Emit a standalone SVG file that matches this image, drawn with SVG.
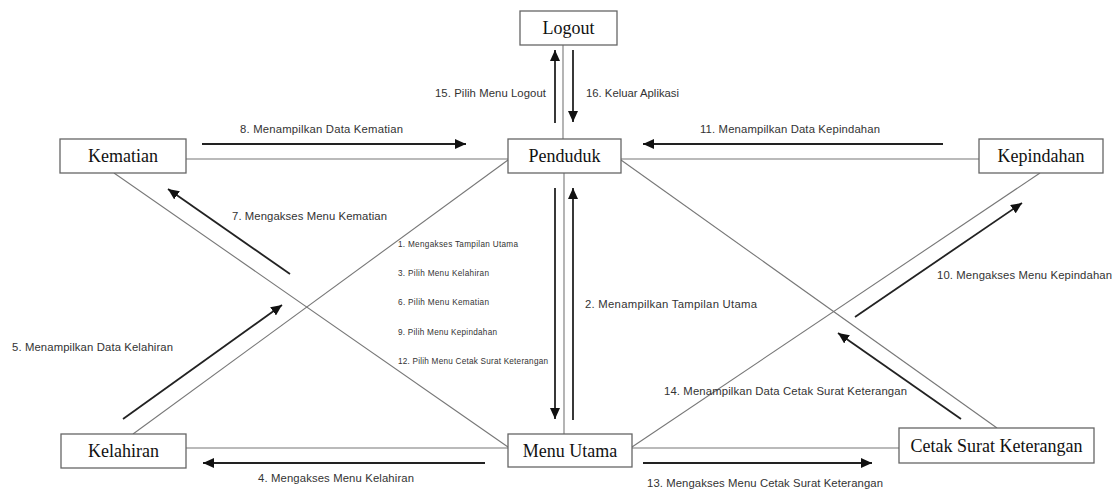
<svg xmlns="http://www.w3.org/2000/svg" width="1118" height="492" viewBox="0 0 1118 492">
<style>
.box{fill:#fff;stroke:#666;stroke-width:1.3}
.nt{font-family:"Liberation Serif","Times New Roman",serif;font-size:18px;fill:#111;text-anchor:middle;dominant-baseline:central}
.ln{stroke:#777;stroke-width:1.1;fill:none}
.ar{stroke:#222;stroke-width:1.8;fill:none;marker-end:url(#ah)}
.lb{font-family:"Liberation Sans",Arial,sans-serif;font-size:11.3px;fill:#333;dominant-baseline:central}
.sm{font-family:"Liberation Sans",Arial,sans-serif;font-size:8.2px;fill:#333;dominant-baseline:central}
</style>
<defs>
<marker id="ah" markerUnits="userSpaceOnUse" markerWidth="12" markerHeight="10" refX="11" refY="5" orient="auto">
<path d="M0,0 L11,5 L0,10 Z" fill="#111"/>
</marker>
</defs>
<g id="connectors">
<line class="ln" x1="563" y1="45" x2="563" y2="139"/>
<line class="ln" x1="186" y1="159" x2="508" y2="159"/>
<line class="ln" x1="621" y1="159" x2="979" y2="159"/>
<line class="ln" x1="564" y1="173" x2="564" y2="434"/>
<line class="ln" x1="186" y1="448" x2="508" y2="448"/>
<line class="ln" x1="632" y1="448" x2="899" y2="448"/>
<line class="ln" x1="114" y1="173" x2="508" y2="447"/>
<line class="ln" x1="508" y1="160" x2="133" y2="434"/>
<line class="ln" x1="621" y1="160" x2="997" y2="428"/>
<line class="ln" x1="632" y1="447" x2="1040" y2="173"/>
<line class="ar" x1="555" y1="123" x2="555" y2="50"/>
<line class="ar" x1="573" y1="50" x2="573" y2="122"/>
<line class="ar" x1="202" y1="144" x2="466" y2="144"/>
<line class="ar" x1="943" y1="144" x2="643" y2="144"/>
<line class="ar" x1="290" y1="274" x2="168" y2="189"/>
<line class="ar" x1="123" y1="419" x2="282" y2="305"/>
<line class="ar" x1="555" y1="188" x2="555" y2="419"/>
<line class="ar" x1="573" y1="420" x2="573" y2="188"/>
<line class="ar" x1="485" y1="463" x2="203" y2="463"/>
<line class="ar" x1="643" y1="463" x2="872" y2="463"/>
<line class="ar" x1="961" y1="419" x2="838" y2="333"/>
<line class="ar" x1="855" y1="317" x2="1022" y2="203"/>
<text class="lb" x="435" y="93" textLength="111">15. Pilih Menu Logout</text>
<text class="lb" x="586" y="93" textLength="93">16. Keluar Aplikasi</text>
<text class="lb" x="240" y="129" textLength="163">8. Menampilkan Data Kematian</text>
<text class="lb" x="700" y="129" textLength="180">11. Menampilkan Data Kepindahan</text>
<text class="lb" x="232" y="216" textLength="155">7. Mengakses Menu Kematian</text>
<text class="lb" x="937" y="275" textLength="175">10. Mengakses Menu Kepindahan</text>
<text class="lb" x="585" y="304" textLength="172">2. Menampilkan Tampilan Utama</text>
<text class="lb" x="12" y="347" textLength="161">5. Menampilkan Data Kelahiran</text>
<text class="lb" x="258" y="478" textLength="156">4. Mengakses Menu Kelahiran</text>
<text class="lb" x="647" y="483" textLength="236">13. Mengakses Menu Cetak Surat Keterangan</text>
<text class="lb" x="664" y="391" textLength="243">14. Menampilkan Data Cetak Surat Keterangan</text>
<text class="sm" x="398" y="244" textLength="120">1. Mengakses Tampilan Utama</text>
<text class="sm" x="398" y="273" textLength="91">3. Pilih Menu Kelahiran</text>
<text class="sm" x="398" y="302" textLength="91">6. Pilih Menu Kematian</text>
<text class="sm" x="398" y="332" textLength="99">9. Pilih Menu Kepindahan</text>
<text class="sm" x="398" y="361" textLength="150">12. Pilih Menu Cetak Surat Keterangan</text>
</g>
<g id="logout"><rect class="box" x="520" y="11" width="97" height="34"/><text class="nt" x="568.5" y="28">Logout</text></g>
<g id="penduduk"><rect class="box" x="508" y="139" width="113" height="34"/><text class="nt" x="564.5" y="156">Penduduk</text></g>
<g id="kematian"><rect class="box" x="60" y="139" width="126" height="34"/><text class="nt" x="123" y="156">Kematian</text></g>
<g id="kepindahan"><rect class="box" x="979" y="139" width="124" height="34"/><text class="nt" x="1041" y="156">Kepindahan</text></g>
<g id="kelahiran"><rect class="box" x="61" y="434" width="125" height="34"/><text class="nt" x="123.5" y="451">Kelahiran</text></g>
<g id="menu-utama"><rect class="box" x="508" y="434" width="124" height="33"/><text class="nt" x="570" y="450.5">Menu Utama</text></g>
<g id="cetak"><rect class="box" x="899" y="428" width="195" height="35"/><text class="nt" x="996.5" y="445.5">Cetak Surat Keterangan</text></g>
</svg>
